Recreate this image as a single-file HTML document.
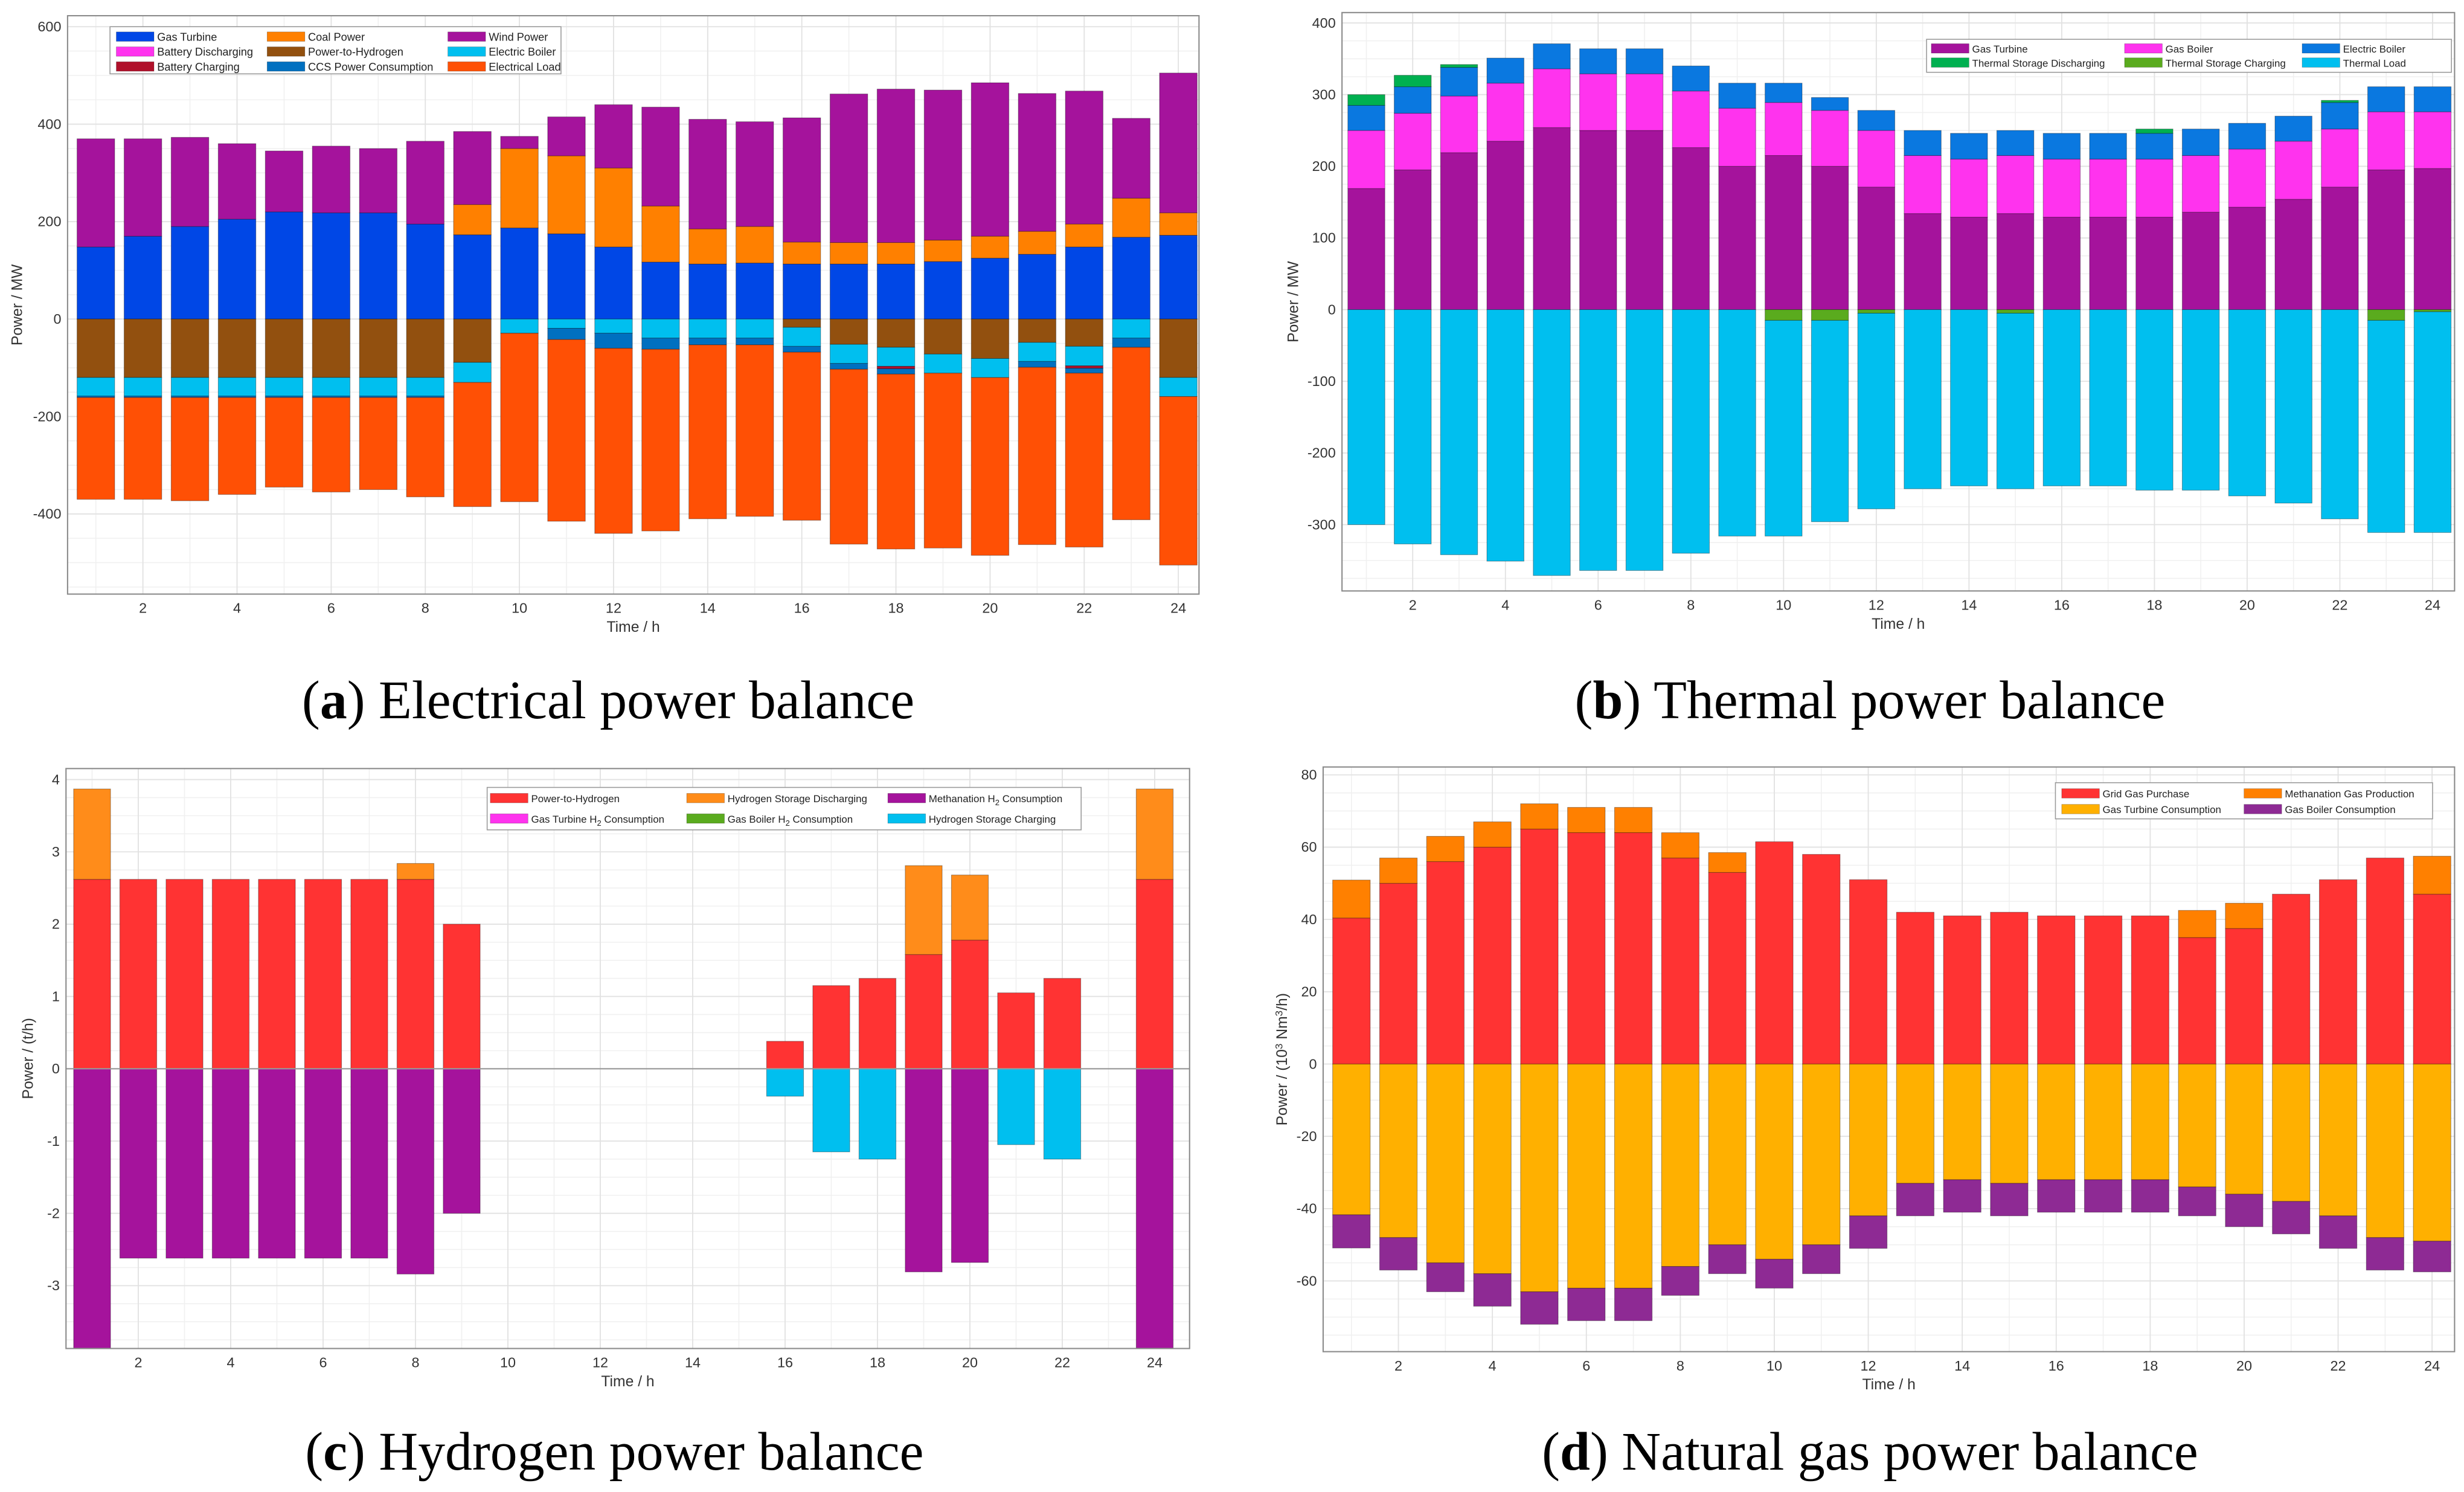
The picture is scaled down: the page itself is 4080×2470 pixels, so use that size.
<!DOCTYPE html>
<html><head><meta charset="utf-8"><style>
html,body{margin:0;padding:0;background:#fff;}
svg{display:block;}
text{font-family:"Liberation Sans",sans-serif;}
.cap{font-family:"Liberation Serif",serif;font-size:34.5px;fill:#000;}
</style></head><body>
<svg id="fig" width="4080" height="2470" viewBox="0 0 1568 949.3" preserveAspectRatio="none" xmlns="http://www.w3.org/2000/svg">
<defs>
<clipPath id="clipc"><rect x="42" y="489" width="715" height="369"/></clipPath>
</defs>
<text class="cap" x="387" y="457" text-anchor="middle">(<tspan font-weight="bold">a</tspan>) Electrical power balance</text>
<text class="cap" x="1190" y="457" text-anchor="middle">(<tspan font-weight="bold">b</tspan>) Thermal power balance</text>
<text class="cap" x="391" y="935" text-anchor="middle">(<tspan font-weight="bold">c</tspan>) Hydrogen power balance</text>
<text class="cap" x="1190" y="935" text-anchor="middle">(<tspan font-weight="bold">d</tspan>) Natural gas power balance</text>
</svg>
<script>
// ---------- Chart (a) data ----------
const hoursA = [1,2,3,4,5,6,7,8,9,10,11,12,13,14,15,16,17,18,19,20,21,22,23,24];
const aGasTurbine = [148,170,190,205,220,218,218,195,173,187,175,148,117,113,115,113,113,113,118,125,133,148,168,172];
const aCoal = [0,0,0,0,0,0,0,0,62,163,160,162,115,72,75,45,44,44,44,45,47,47,80,46];
const aBatteryDis = [0,0,0,0,0,0,0,0,0,0,0,0,0,0,0,0,0,0,0,0,0,0,0,0];
const aWind = [222,200,183,155,125,137,132,170,150,25,80,130,203,225,215,255,305,315,308,315,283,273,164,287];
const aP2H = [120,120,120,120,120,120,120,120,89,0,0,0,0,0,0,17,52,58,72,81,48,56,0,120];
const aBoiler = [38,38,38,38,38,38,38,38,41,29,19,29,39,39,39,39,39,39,39,39,39,40,39,39];
const aBatteryCh = [0,0,0,0,0,0,0,0,0,0,0,0,0,0,0,0,0,5,0,0,0,5,0,0];
const aCCS = [3,3,3,3,3,3,3,3,0,0,23,31,23,14,14,12,12,11,0,0,12,10,19,0];
const aLoad = [209,209,212,199,184,194,189,204,255,346,373,380,373,357,352,345,359,359,359,365,364,357,354,346];
const aYTicks = [-400,-200,0,200,400,600];
const xTickLabels = [2,4,6,8,10,12,14,16,18,20,22,24];

// ---------- Chart (b) data ----------
const bGasTurbine = [169,195,219,235,254,250,250,226,200,215,200,171,134,129,134,129,129,129,136,143,154,171,195,197];
const bGasBoiler = [81,79,79,81,82,79,79,79,81,74,78,79,81,81,81,81,81,81,79,81,81,81,81,79];
const bElecBoiler = [35,37,40,35,35,35,35,35,35,27,18,28,35,36,35,36,36,36,37,36,35,37,35,35];
const bTSDis = [15,16,4,0,0,0,0,0,0,0,0,0,0,0,0,0,0,6,0,0,0,3,0,0];
const bTSCh = [0,0,0,0,0,0,0,0,0,15,15,5,0,0,5,0,0,0,0,0,0,0,15,3];
const bLoad = [300,327,342,351,371,364,364,340,316,301,281,273,250,246,245,246,246,252,252,260,270,292,296,308];
const bYTicks = [-300,-200,-100,0,100,200,300,400];

// ---------- Chart (c) data ----------
const cP2H = [2.62,2.62,2.62,2.62,2.62,2.62,2.62,2.62,2.0,0,0,0,0,0,0,0.38,1.15,1.25,1.58,1.78,1.05,1.25,0,2.62];
const cHSDis = [1.25,0,0,0,0,0,0,0.22,0,0,0,0,0,0,0,0,0,0,1.23,0.9,0,0,0,1.25];
const cGTH2 = [0,0,0,0,0,0,0,0,0,0,0,0,0,0,0,0,0,0,0,0,0,0,0,0];
const cGBH2 = [0,0,0,0,0,0,0,0,0,0,0,0,0,0,0,0,0,0,0,0,0,0,0,0];
const cMeth = [3.87,2.62,2.62,2.62,2.62,2.62,2.62,2.84,2.0,0,0,0,0,0,0,0,0,0,2.81,2.68,0,0,0,3.87];
const cHSCh = [0,0,0,0,0,0,0,0,0,0,0,0,0,0,0,0.38,1.15,1.25,0,0,1.05,1.25,0,0];
const cYTicks = [-3,-2,-1,0,1,2,3,4];

// ---------- Chart (d) data ----------
const dGrid = [40.4,50,56,60,65,64,64,57,53,61.5,58,51,42,41,42,41,41,41,35,37.5,47,51,57,47];
const dMethGas = [10.5,7,7,7,7,7,7,7,5.5,0,0,0,0,0,0,0,0,0,7.5,7,0,0,0,10.5];
const dGTCons = [41.7,48,55,58,63,62,62,56,50,54,50,42,33,32,33,32,32,32,34,36,38,42,48,49];
const dGBCons = [9.2,9,8,9,9,9,9,8,8,8,8,9,9,9,9,9,9,9,8,9,9,9,9,8.5];
const dYTicks = [-60,-40,-20,0,20,40,60,80];

const NS = "http://www.w3.org/2000/svg";
const fig = document.getElementById('fig');
function el(tag, attrs, parent){
  const e = document.createElementNS(NS, tag);
  for (const k in attrs) e.setAttribute(k, attrs[k]);
  (parent||fig).appendChild(e);
  return e;
}

function makeChart(cfg){
  const g = el('g', {});
  
  
  const L=cfg.L,R=cfg.R,T=cfg.T,B=cfg.B;
  const xs = h => cfg.x1 + (h-1)*cfg.dx;
  const ys = v => cfg.y0 - v*cfg.ky;
  el('rect',{x:L,y:T,width:R-L,height:B-T,fill:'#fff'},g);
  for(let h=1; h<=24; h++){
    const ln = el('line',{x1:xs(h),x2:xs(h),y1:T,y2:B,stroke:'#f0f0f0','stroke-width':0.6},g);
    
    
  }
  const tstep = cfg.yt[1]-cfg.yt[0];
  for(let v=cfg.yt[0]-tstep; v<=cfg.yt[cfg.yt.length-1]+tstep; v+=tstep/4){
    const y=ys(v); if(y<T||y>B) continue;
    const ln = el('line',{x1:L,x2:R,y1:y,y2:y,stroke:'#f0f0f0','stroke-width':0.6},g);
    
    
  }
  for(const t of xTickLabels){
    const ln = el('line',{x1:xs(t),x2:xs(t),y1:T,y2:B,stroke:'#e2e2e2','stroke-width':0.7},g);
    
    
  }
  for(const t of cfg.yt){
    const ln = el('line',{x1:L,x2:R,y1:ys(t),y2:ys(t),stroke:'#e2e2e2','stroke-width':0.7},g);
    
    
  }
  const bars = el('g', cfg.clip?{'clip-path':'url(#'+cfg.clip+')'}:{}, g);
  
  
  const bw = cfg.dx*0.8;
  for(let i=0;i<24;i++){
    const h=i+1;
    let acc=0;
    for(const s of cfg.pos){
      const v=s.data[i]; if(!v) continue;
      const r = el('rect',{x:xs(h)-bw/2,y:ys(acc+v),width:bw,height:v*cfg.ky,fill:s.color,stroke:'rgba(0,0,0,0.35)','stroke-width':0.4},bars);
      
      
      acc+=v;
    }
    acc=0;
    for(const s of cfg.neg){
      const v=s.data[i]; if(!v) continue;
      const r = el('rect',{x:xs(h)-bw/2,y:ys(acc),width:bw,height:v*cfg.ky,fill:s.color,stroke:'rgba(0,0,0,0.35)','stroke-width':0.4},bars);
      
      
      acc-=v;
    }
  }
  if(cfg.zeroLine){
    const z = el('line',{x1:L,x2:R,y1:ys(0),y2:ys(0),stroke:'#999','stroke-width':0.8},g);
    
    
  }
  const fr = el('rect',{x:L,y:T,width:R-L,height:B-T,fill:'none',stroke:'#8a8a8a','stroke-width':0.8},g);
  
  
  for(const t of xTickLabels){
    const tx = el('text',{x:xs(t),y:B+12,'font-size':9,'text-anchor':'middle',fill:'#333'},g);
    tx.textContent=t;
    
    
  }
  for(const t of cfg.yt){
    const tx = el('text',{x:L-4,y:ys(t)+3,'font-size':9,'text-anchor':'end',fill:'#333'},g);
    tx.textContent=t;
    
    
  }
  const xl = el('text',{x:(L+R)/2,y:B+24,'font-size':9.5,'text-anchor':'middle',fill:'#333'},g);
  xl.textContent='Time / h';
  
  
  const yl = el('text',{x:0,y:0,'font-size':9.5,'text-anchor':'middle',fill:'#333',transform:'translate('+cfg.ylx+','+((T+B)/2)+') rotate(-90)'},g);
  yl.innerHTML = cfg.ylabel;
  
  
  const lg = cfg.legend;
  const lgG = el('g',{},g);
  
  
  el('rect',{x:lg.x,y:lg.y,width:lg.w,height:lg.h,fill:'#fff',stroke:'#999','stroke-width':0.6},lgG);
  lg.items.forEach((it,k)=>{
    const col=k%lg.cols.length, row=Math.floor(k/lg.cols.length);
    const ix=lg.cols[col], iy=lg.rows[row];
    const e = el('g',{},lgG);
    
    
    el('rect',{x:ix,y:iy-3.2,width:lg.sw,height:6,fill:it.color,stroke:'rgba(0,0,0,0.3)','stroke-width':0.3},e);
    const t = el('text',{x:ix+lg.sw+2,y:iy+2.4,'font-size':lg.fs,fill:'#222'},e);
    t.innerHTML = it.label;
  });
}

const C = {gt:'#0047e6',coal:'#ff8000',wind:'#a5139c',bd:'#ff33ee',p2h:'#92500f',eb:'#00bfef',bc:'#b0102a',ccs:'#0070c0',load:'#ff5005'};
makeChart({name:'chart-a-electrical',L:43,R:763,T:10,B:378,x1:61,dx:29.95,y0:203,ky:0.31,yt:aYTicks,ylx:14,ylabel:'Power / MW',
  pos:[{key:'gas-turbine',data:aGasTurbine,color:C.gt},{key:'coal',data:aCoal,color:C.coal},{key:'battery-discharging',data:aBatteryDis,color:C.bd},{key:'wind',data:aWind,color:C.wind}],
  neg:[{key:'p2h',data:aP2H,color:C.p2h},{key:'electric-boiler',data:aBoiler,color:C.eb},{key:'battery-charging',data:aBatteryCh,color:C.bc},{key:'ccs',data:aCCS,color:C.ccs},{key:'electrical-load',data:aLoad,color:C.load}],
  legend:{x:70,y:17,w:287,h:30,cols:[74,170,285],rows:[23.5,33,42.5],sw:24,fs:7,items:[
    {label:'Gas Turbine',color:C.gt},{label:'Coal Power',color:C.coal},{label:'Wind Power',color:C.wind},
    {label:'Battery Discharging',color:C.bd},{label:'Power-to-Hydrogen',color:C.p2h},{label:'Electric Boiler',color:C.eb},
    {label:'Battery Charging',color:C.bc},{label:'CCS Power Consumption',color:C.ccs},{label:'Electrical Load',color:C.load}]}});

makeChart({name:'chart-b-thermal',L:854,R:1562,T:8,B:376,x1:869.5,dx:29.5,y0:197,ky:0.456,yt:bYTicks,ylx:826,ylabel:'Power / MW',
  pos:[{key:'gas-turbine',data:bGasTurbine,color:'#a5139c'},{key:'gas-boiler',data:bGasBoiler,color:'#ff33ee'},{key:'electric-boiler',data:bElecBoiler,color:'#0a78e0'},{key:'ts-discharging',data:bTSDis,color:'#00b050'}],
  neg:[{key:'ts-charging',data:bTSCh,color:'#5aab1e'},{key:'thermal-load',data:bLoad,color:'#00bfef'}],
  legend:{x:1226,y:25,w:334,h:21,cols:[1229,1352,1465],rows:[31,40],sw:24,fs:6.5,items:[
    {label:'Gas Turbine',color:'#a5139c'},{label:'Gas Boiler',color:'#ff33ee'},{label:'Electric Boiler',color:'#0a78e0'},
    {label:'Thermal Storage Discharging',color:'#00b050'},{label:'Thermal Storage Charging',color:'#5aab1e'},{label:'Thermal Load',color:'#00bfef'}]}});

makeChart({name:'chart-c-hydrogen',L:42,R:757,T:489,B:858,x1:58.6,dx:29.4,y0:680,ky:46,yt:cYTicks,ylx:21,ylabel:'Power / (t/h)',clip:'clipc',zeroLine:true,
  pos:[{key:'p2h',data:cP2H,color:'#ff3333'},{key:'h2-storage-discharging',data:cHSDis,color:'#ff8c1a'}],
  neg:[{key:'gt-h2',data:cGTH2,color:'#ff33ee'},{key:'gb-h2',data:cGBH2,color:'#5aab1e'},{key:'methanation-h2',data:cMeth,color:'#a5139c'},{key:'h2-storage-charging',data:cHSCh,color:'#00bfef'}],
  legend:{x:310,y:501,w:378,h:27,cols:[312,437,565],rows:[508,521],sw:24,fs:6.5,items:[
    {label:'Power-to-Hydrogen',color:'#ff3333'},{label:'Hydrogen Storage Discharging',color:'#ff8c1a'},{label:'Methanation H<tspan dy="2" font-size="5">2</tspan><tspan dy="-2"> Consumption</tspan>',color:'#a5139c'},
    {label:'Gas Turbine H<tspan dy="2" font-size="5">2</tspan><tspan dy="-2"> Consumption</tspan>',color:'#ff33ee'},{label:'Gas Boiler H<tspan dy="2" font-size="5">2</tspan><tspan dy="-2"> Consumption</tspan>',color:'#5aab1e'},{label:'Hydrogen Storage Charging',color:'#00bfef'}]}});

makeChart({name:'chart-d-gas',L:842,R:1562,T:488,B:860,x1:860,dx:29.9,y0:677,ky:2.3,yt:dYTicks,ylx:819,ylabel:'Power / (10<tspan dy="-3" font-size="6.5">3</tspan><tspan dy="3"> Nm</tspan><tspan dy="-3" font-size="6.5">3</tspan><tspan dy="3">/h)</tspan>',
  pos:[{key:'grid-gas',data:dGrid,color:'#ff3333'},{key:'methanation-gas',data:dMethGas,color:'#ff8000'}],
  neg:[{key:'gt-consumption',data:dGTCons,color:'#ffb000'},{key:'gb-consumption',data:dGBCons,color:'#8e2a94'}],
  legend:{x:1308,y:498,w:240,h:23,cols:[1312,1428],rows:[505,515],sw:24,fs:6.5,items:[
    {label:'Grid Gas Purchase',color:'#ff3333'},{label:'Methanation Gas Production',color:'#ff8000'},
    {label:'Gas Turbine Consumption',color:'#ffb000'},{label:'Gas Boiler Consumption',color:'#8e2a94'}]}});
</script>
</body></html>
